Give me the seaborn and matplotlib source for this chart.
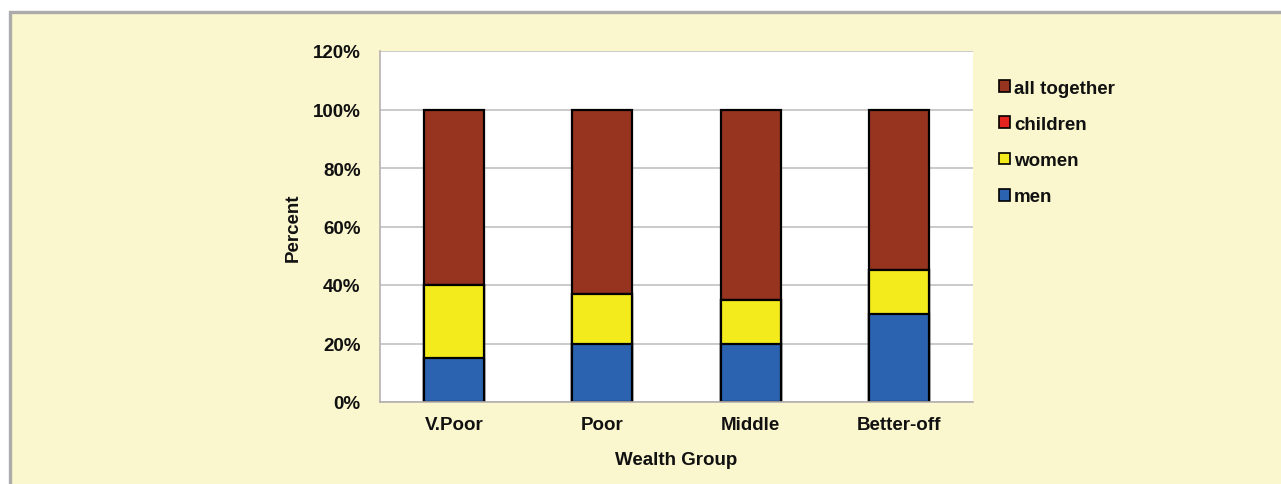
import pandas as pd
import matplotlib.pyplot as plt
import seaborn as sns
from matplotlib.patches import Patch, Rectangle
from matplotlib.ticker import FuncFormatter

# data (percent of each wealth group)
groups = ['V.Poor', 'Poor', 'Middle', 'Better-off']
men = [15, 20, 20, 30]
women = [25, 17, 15, 15]
children = [0, 0, 0, 0]
all_together = [60, 63, 65, 55]

series = ['men', 'women', 'children', 'all together']
colors = {'men': '#2B63B1', 'women': '#F3EB1B', 'children': '#E52420', 'all together': '#97341F'}

df = pd.DataFrame({'Group': groups, 'men': men, 'women': women,
                   'children': children, 'all together': all_together})
# cumulative tops so the bars can be drawn from the tallest down
cum = df[series].cumsum(axis=1)

sns.set_style('white')
plt.rcParams['font.family'] = ['Liberation Sans', 'DejaVu Sans']
plt.rcParams['font.weight'] = 'bold'
for k in ['text.color', 'axes.labelcolor', 'xtick.color', 'ytick.color']:
    plt.rcParams[k] = '#111111'

cream = '#FAF6CD'
fig = plt.figure(figsize=(12.81, 4.85), dpi=100, facecolor='white')
fig.patches.append(Rectangle((10 / 1281, -0.2), 1.2, 1.2 - 12.5 / 485,
                             transform=fig.transFigure, facecolor=cream,
                             edgecolor='#ABABAB', linewidth=2.4, zorder=-1))
ax = fig.add_axes([380 / 1281, 82 / 485, 593 / 1281, 351 / 485])
ax.set_facecolor('white')

for s in reversed(series):
    sns.barplot(x=df['Group'], y=cum[s], color=colors[s], width=0.405,
                edgecolor='black', linewidth=1.6, saturation=1, ax=ax)

ax.set_ylim(0, 120)
ax.set_yticks(range(0, 121, 20))
ax.yaxis.set_major_formatter(FuncFormatter(lambda v, p: f'{v:.0f}%'))
ax.grid(axis='y', color='#C4C0C0', linewidth=1.2)
ax.set_axisbelow(True)
for side in ['top', 'right']:
    ax.spines[side].set_visible(False)
for side in ['left', 'bottom']:
    ax.spines[side].set_color('#B5B0B0')
    ax.spines[side].set_linewidth(1.2)
ax.tick_params(length=0, labelsize=13.5, pad=14)
ax.tick_params(axis='x', pad=10)
ax.set_xlabel('Wealth Group', fontsize=13.5, fontweight='bold', labelpad=13)
ax.set_ylabel('Percent', fontsize=13.5, fontweight='bold', labelpad=8)

handles = [Patch(facecolor=colors[s], edgecolor='black', linewidth=1.2, label=s)
           for s in reversed(series)]
fig.legend(handles=handles, loc='upper left', bbox_to_anchor=(982 / 1281, 1 - 64 / 485),
           frameon=False, fontsize=13.5, handlelength=0.6, handleheight=0.6,
           handletextpad=0.2, labelspacing=1.02)

plt.savefig('out.png', dpi=100, facecolor='white')
